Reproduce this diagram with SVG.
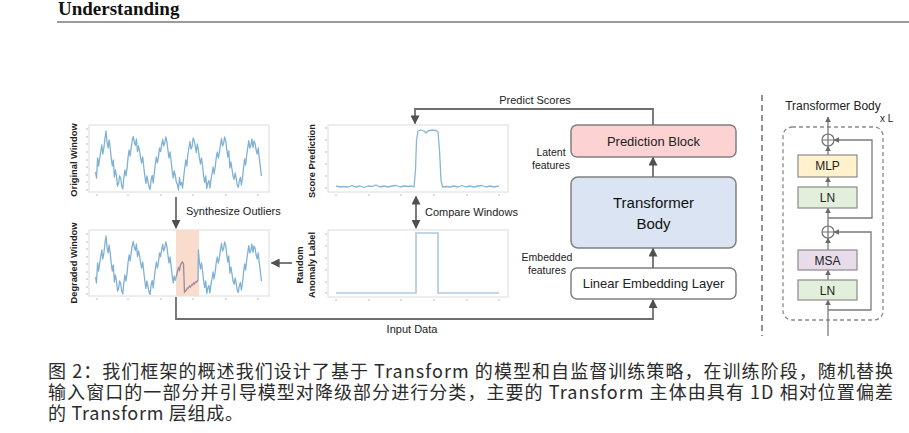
<svg xmlns="http://www.w3.org/2000/svg" width="909" height="433" viewBox="0 0 909 433">
<style>
.sans{font-family:"Liberation Sans",Arial,sans-serif}
.ylab{font-family:"Liberation Sans",Arial,sans-serif;font-weight:bold;font-size:9.3px;fill:#222}
.lbl{font-family:"Liberation Sans",Arial,sans-serif;font-size:11px;fill:#222}
.small{font-family:"Liberation Sans",Arial,sans-serif;font-size:10.5px;fill:#222}
.frame{fill:#fff;stroke:#dcdcdc;stroke-width:1}
.tick{stroke:#bbb;stroke-width:1}
.wave{fill:none;stroke:#7fb1d5;stroke-width:1.3;stroke-linejoin:round}
.conn{fill:none;stroke:#6e6e6e;stroke-width:1.8}
.thin{fill:none;stroke:#7a7a7a;stroke-width:1.3}
.box{stroke:#808080;stroke-width:1.5}
.cap{font-family:"Noto Sans CJK SC","Noto Sans",sans-serif;font-size:18px;fill:#2b2b2b}
</style>
<defs>
<marker id="ah" viewBox="0 0 10 10" refX="9" refY="5" markerWidth="9" markerHeight="9" markerUnits="userSpaceOnUse" orient="auto-start-reverse">
<path d="M0,0 L10,5 L0,10 z" fill="#505050"/>
</marker>
<marker id="ahs" viewBox="0 0 10 10" refX="9" refY="5" markerWidth="6" markerHeight="6" markerUnits="userSpaceOnUse" orient="auto">
<path d="M0,0 L10,5 L0,10 z" fill="#6a6a6a"/>
</marker>
</defs>

<!-- header -->
<text x="58" y="15" font-family="Liberation Serif,'Times New Roman',serif" font-weight="bold" font-size="19" fill="#111">Understanding</text>
<line x1="57" y1="22" x2="909" y2="22" stroke="#7a7a7a" stroke-width="1.5"/>

<!-- Original window chart -->
<g id="original-window">
<rect class="frame" x="89" y="125" width="180" height="67"/>
<g class="tick">
<path d="M86,129h2M86,137h2M86,144h2M86,152h2M86,160h2M86,167h2M86,175h2M86,182h2M86,190h2"/>
<path d="M97,194v2M128,194v2M161,194v2M193,194v2M226,194v2M258,194v2"/>
</g>
<polyline class="wave" points="95.5,172 96.5,178 97.6,158 98.6,166 99.7,158 100.7,152 101.8,145 102.8,154 103.9,148 105,138 106,131 107,142 108.1,148 109.1,140 110.2,148 111.2,158 112.3,166 113.3,160 114.4,177 115.4,170 116.5,176 117.5,186 118.6,183.5 119.6,176 120.7,178.5 121.7,186 122.8,189 123.8,178 124.9,170 125.9,176 127,169 128,158 129.1,150 130.1,156 131.2,147.6 132.2,141 133.3,136.5 134.3,142 135.4,145.5 136.4,139 137.5,151.6 138.5,146 139.6,151 140.6,158 141.7,163 142.7,157 143.8,167 144.8,176 145.9,183.4 146.9,176 148,181.5 149,187 150.1,189.5 151.1,180 152.2,175.4 153.2,183 154.3,173 155.3,164 156.4,157 157.4,163 158.5,157 159.5,148 160.6,151.6 161.6,145 162.7,139.5 163.7,146 164.8,142.5 165.8,137 166.9,141.6 167.9,150 169,158 170,152 171.1,161 172.1,170 173.2,178 174.2,171 175.3,175.4 176.3,182 177.4,184.5 178.4,190 179.5,177.5 180.5,185 181.6,182.4 182.6,188 183.7,177 184.7,168 185.8,160 186.8,166 187.9,154 188.9,148 190,141.6 191,149 192.1,146.5 193.1,138 194.2,140.5 195.2,146 196.3,152.6 197.3,144 198.4,150 199.4,158 200.5,164 201.5,158 202.6,166 203.6,176 204.7,182.4 205.7,176 206.8,188.5 207.8,183 208.9,180.5 209.9,188 211,179.4 212,174 213.1,167 214.1,174 215.2,167 216.2,158 217.3,152 218.3,158 219.4,152.6 220.4,145 221.5,138.5 222.5,146 223.6,143.5 224.6,137 225.7,140.6 226.7,149 227.8,157 228.8,151 229.9,168 230.9,162 232,169 233,176 234.1,179.4 235.1,173 236.2,178.5 237.2,185 238.3,187.5 239.3,181 240.4,177.4 241.4,185 242.5,178 243.5,168 244.6,159 245.6,165 246.7,155 247.7,148 248.8,140.6 249.8,148 250.9,145.5 251.9,139 253,147.5 254,141 255.1,143.6 256.1,150 257.2,154 258.2,148 259.3,158 260.3,166 261.4,176"/>
<text class="ylab" transform="translate(77,160) rotate(-90)" text-anchor="middle">Original Window</text>
</g>

<!-- Degraded window chart -->
<g id="degraded-window">
<rect class="frame" x="89" y="230" width="180" height="66"/>
<rect x="176" y="230" width="23" height="66" fill="#f9dccb"/>
<g class="tick">
<path d="M86,234h2M86,242h2M86,249h2M86,257h2M86,264h2M86,272h2M86,279h2M86,287h2M86,294h2"/>
<path d="M97,298v2M128,298v2M161,298v2M193,298v2M226,298v2M258,298v2"/>
</g>
<polyline class="wave" points="95.5,277 96.5,283 97.6,263 98.6,271 99.7,263 100.7,257 101.8,250 102.8,259 103.9,253 105,243 106,236 107,247 108.1,253 109.1,245 110.2,253 111.2,263 112.3,271 113.3,265 114.4,282 115.4,275 116.5,281 117.5,291 118.6,288.5 119.6,281 120.7,283.5 121.7,291 122.8,294 123.8,283 124.9,275 125.9,281 127,274 128,263 129.1,255 130.1,261 131.2,252.6 132.2,246 133.3,241.5 134.3,247 135.4,250.5 136.4,244 137.5,256.6 138.5,251 139.6,256 140.6,263 141.7,268 142.7,262 143.8,272 144.8,281 145.9,288.4 146.9,281 148,286.5 149,292 150.1,294.5 151.1,285 152.2,280.4 153.2,288 154.3,278 155.3,269 156.4,262 157.4,268 158.5,262 159.5,253 160.6,256.6 161.6,250 162.7,244.5 163.7,251 164.8,247.5 165.8,242 166.9,246.6 167.9,255 169,263 170,257 171.1,266 172.1,275 173.2,283 174.2,276 175.3,280.4 176.5,276"/>
<polyline fill="none" stroke="#9a8aa0" stroke-width="1.3" points="176.5,276 177.5,271 178.5,268 179.5,270 180.5,265 181.5,263 182.5,262 183.5,264 184.5,292 185.5,291 186.5,290 187.5,288 188.5,288 189.5,286 190.5,287 191.5,285 192.5,285 193.5,283 194.5,284 195.5,282 196.5,282 198,280"/>
<polyline class="wave" points="198,280 198.4,250 199.4,262 200.5,269 201.5,263 202.6,271 203.6,281 204.7,287.4 205.7,281 206.8,293.5 207.8,288 208.9,285.5 209.9,293 211,284.4 212,279 213.1,272 214.1,279 215.2,272 216.2,263 217.3,257 218.3,263 219.4,257.6 220.4,250 221.5,243.5 222.5,251 223.6,248.5 224.6,242 225.7,245.6 226.7,254 227.8,262 228.8,256 229.9,273 230.9,267 232,274 233,281 234.1,284.4 235.1,278 236.2,283.5 237.2,290 238.3,292.5 239.3,286 240.4,282.4 241.4,290 242.5,283 243.5,273 244.6,264 245.6,270 246.7,260 247.7,253 248.8,245.6 249.8,253 250.9,250.5 251.9,244 253,252.5 254,246 255.1,248.6 256.1,255 257.2,259 258.2,253 259.3,263 260.3,271 261.4,281"/>
<text class="ylab" transform="translate(77,263) rotate(-90)" text-anchor="middle">Degraded Window</text>
</g>

<!-- Score prediction chart -->
<g id="score-prediction">
<rect class="frame" x="328" y="125" width="180" height="67"/>
<g class="tick">
<path d="M325,128h2M325,140h2M325,152h2M325,164h2M325,176h2M325,188h2"/>
<path d="M336,194v2M369,194v2M401,194v2M434,194v2M467,194v2M499,194v2"/>
</g>
<polyline fill="none" stroke="#86b6d8" stroke-width="1.3" stroke-linejoin="round" points="336,186 340,187 344,186.5 348,187 352,185.5 356,187 360,186 364,187.5 368,186 372,186.5 376,185 380,187 384,186 388,187 392,186 396,185.5 400,187 404,186 408,186.5 412,186 414,187 415.5,170 416.5,140 418,131 421,130 424,131 426,133 428,131 432,130 436,130.5 438,132 439.5,150 441,180 442.5,187 446,186.5 450,187 454,186 458,187 462,185.5 466,187 470,186 474,187 478,186 482,185.5 486,187 490,186 494,187 499,186"/>
<text class="ylab" transform="translate(315,161) rotate(-90)" text-anchor="middle">Score Prediction</text>
</g>

<!-- Random anomaly label chart -->
<g id="anomaly-label">
<rect class="frame" x="328" y="230" width="180" height="67"/>
<g class="tick">
<path d="M325,234h2M325,246h2M325,258h2M325,270h2M325,282h2M325,293h2"/>
<path d="M336,299v2M369,299v2M401,299v2M434,299v2M467,299v2M499,299v2"/>
</g>
<polyline fill="none" stroke="#acc9e2" stroke-width="1.6" points="336,293 416,293 416,233 438,233 438,293 499,293"/>
<text class="ylab" font-size="9" transform="translate(303,265) rotate(-90)" text-anchor="middle">Random</text>
<text class="ylab" font-size="9" transform="translate(315,265) rotate(-90)" text-anchor="middle">Anomaly Label</text>
</g>

<!-- Right column boxes -->
<g id="prediction-block">
<rect class="box" x="571" y="125" width="165" height="32" rx="6" fill="#fdd2d2"/>
<text class="sans" x="653.5" y="145.5" font-size="13" text-anchor="middle" fill="#222">Prediction Block</text>
</g>
<g id="transformer-body">
<rect class="box" x="571" y="177" width="165" height="71" rx="7" fill="#dbe4f2"/>
<text class="sans" x="653.5" y="208" font-size="15" text-anchor="middle" fill="#111">Transformer</text>
<text class="sans" x="653.5" y="229" font-size="15" text-anchor="middle" fill="#111">Body</text>
</g>
<g id="linear-embedding">
<rect class="box" x="571" y="268" width="165" height="31" rx="6" fill="#fff"/>
<text class="sans" x="653.5" y="288" font-size="13" text-anchor="middle" fill="#222">Linear Embedding Layer</text>
</g>

<!-- connectors -->
<g id="connectors">
<path class="conn" d="M653,125 V109 H415 V123.5" marker-end="url(#ah)"/>
<path class="conn" d="M416,196.5 V228" marker-start="url(#ah)" marker-end="url(#ah)"/>
<path class="conn" d="M176,197 V228" marker-end="url(#ah)"/>
<path class="conn" d="M292,263 H271.5" marker-end="url(#ah)"/>
<path class="conn" d="M176,297 V319 H653 V300" marker-end="url(#ah)"/>
<path class="conn" d="M653,177 V157.5" marker-end="url(#ah)"/>
<path class="conn" d="M653,268 V248.5" marker-end="url(#ah)"/>
</g>

<!-- connector labels -->
<text class="lbl" x="535" y="104" text-anchor="middle">Predict Scores</text>
<text class="lbl" x="186" y="214.5">Synthesize Outliers</text>
<text class="lbl" x="425" y="216">Compare Windows</text>
<text class="lbl" x="412" y="333" text-anchor="middle">Input Data</text>
<text class="small" x="551" y="156" text-anchor="middle">Latent</text>
<text class="small" x="551" y="169" text-anchor="middle">features</text>
<text class="small" x="547" y="261" text-anchor="middle">Embedded</text>
<text class="small" x="547" y="274" text-anchor="middle">features</text>

<!-- divider -->
<line x1="762" y1="95" x2="762" y2="336" stroke="#707070" stroke-width="1.5" stroke-dasharray="6,4"/>

<!-- Transformer body detail -->
<g id="tb-detail">
<text class="sans" x="833" y="110" font-size="12" text-anchor="middle" fill="#222">Transformer Body</text>
<text class="sans" x="880" y="122" font-size="10" fill="#222">x L</text>
<rect x="783" y="127" width="100" height="193" rx="9" fill="none" stroke="#8a8a8a" stroke-width="1.3" stroke-dasharray="4,3"/>
</g>
<g id="tb-connectors">
<path class="thin" d="M828,336 V300" marker-end="url(#ahs)"/>
<path class="thin" d="M828,310 H871 V232 H834" marker-end="url(#ahs)"/>
<path class="thin" d="M828,280 V270" marker-end="url(#ahs)"/>
<path class="thin" d="M828,250 V238" marker-end="url(#ahs)"/>
<path class="thin" d="M828,226 V208" marker-end="url(#ahs)"/>
<path class="thin" d="M828,218 H872 V140 H834" marker-end="url(#ahs)"/>
<path class="thin" d="M828,187 V177" marker-end="url(#ahs)"/>
<path class="thin" d="M828,155 V146" marker-end="url(#ahs)"/>
<path class="thin" d="M828,134 V117" marker-end="url(#ahs)"/>
</g>
<g id="add-top">
<circle cx="828" cy="140" r="6" fill="#fff" stroke="#6e6e6e" stroke-width="1.2"/>
<path d="M822,140 H834 M828,134 V146" stroke="#6e6e6e" stroke-width="1.2"/>
</g>
<g id="add-bottom">
<circle cx="828" cy="232" r="6" fill="#fff" stroke="#6e6e6e" stroke-width="1.2"/>
<path d="M822,232 H834 M828,226 V238" stroke="#6e6e6e" stroke-width="1.2"/>
</g>
<g id="mlp">
<rect x="798" y="155" width="59" height="22" fill="#fff2cc" stroke="#8a8a8a" stroke-width="1.2"/>
<text class="sans" x="827.5" y="170" font-size="12" text-anchor="middle" fill="#222">MLP</text>
</g>
<g id="ln-top">
<rect x="798" y="187" width="59" height="21" fill="#e2efda" stroke="#8a8a8a" stroke-width="1.2"/>
<text class="sans" x="827.5" y="202" font-size="12" text-anchor="middle" fill="#222">LN</text>
</g>
<g id="msa">
<rect x="798" y="250" width="59" height="20" fill="#e9dcea" stroke="#8a8a8a" stroke-width="1.2"/>
<text class="sans" x="827.5" y="264.5" font-size="12" text-anchor="middle" fill="#222">MSA</text>
</g>
<g id="ln-bottom">
<rect x="798" y="280" width="59" height="20" fill="#e2efda" stroke="#8a8a8a" stroke-width="1.2"/>
<text class="sans" x="827.5" y="294.5" font-size="12" text-anchor="middle" fill="#222">LN</text>
</g>

<!-- caption -->
<text class="cap" x="48" y="378" textLength="845" lengthAdjust="spacing">图 2：我们框架的概述我们设计了基于 Transform 的模型和自监督训练策略，在训练阶段，随机替换</text>
<text class="cap" x="48" y="399" textLength="845" lengthAdjust="spacing">输入窗口的一部分并引导模型对降级部分进行分类，主要的 Transform 主体由具有 1D 相对位置偏差</text>
<text class="cap" x="48" y="420" textLength="195" lengthAdjust="spacing">的 Transform 层组成。</text>
</svg>
